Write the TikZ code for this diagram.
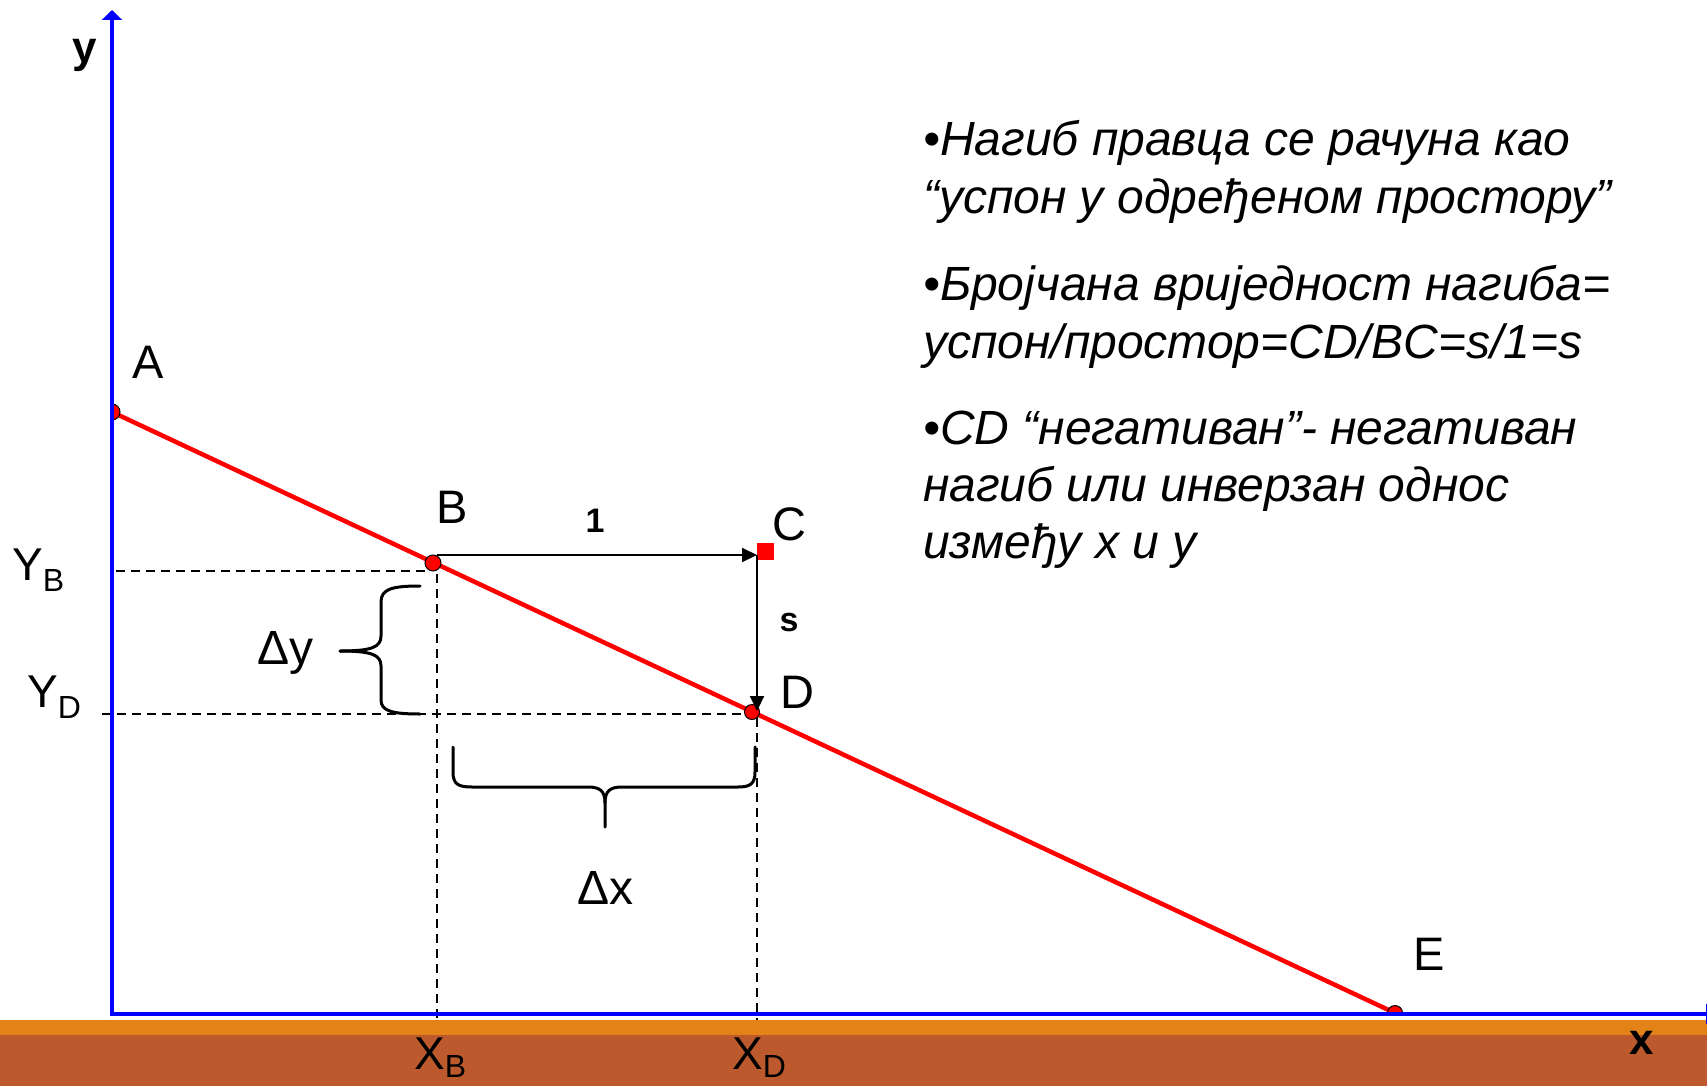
\documentclass[tikz,border=0pt]{standalone}
\usepackage{fontspec}
\setmainfont{Liberation Sans}
\usetikzlibrary{arrows.meta}
\definecolor{axisblue}{RGB}{0,0,255}
\definecolor{bandorange}{RGB}{227,130,23}
\definecolor{bandbrown}{RGB}{189,90,45}
\begin{document}
\begin{tikzpicture}[x=1pt,y=-1pt,
  axis/.style={draw=axisblue, line width=4pt, -{Triangle[width=20pt,length=10pt]}},
  slope/.style={draw=red, line width=4.5pt},
  dot/.style={fill=red, draw=black, line width=1pt},
  guide/.style={draw=black, line width=2.5pt, dash pattern=on 9pt off 6pt},
  arr/.style={draw=black, line width=2pt, -{Triangle[width=14pt,length=15pt]}},
  brace/.style={draw=black, line width=3pt, line cap=round},
  lbl/.style={font=\fontsize{47}{47}\selectfont, inner sep=0pt},
  sublbl/.style={font=\fontsize{46}{46}\selectfont, inner sep=0pt, anchor=base west},
  axlbl/.style={font=\fontsize{44}{44}\selectfont\bfseries, inner sep=0pt},
  small/.style={font=\fontsize{34}{34}\selectfont\bfseries, inner sep=0pt},
  delta/.style={font=\fontsize{48}{48}\selectfont, inner sep=0pt, anchor=base west},
  note/.style={font=\fontsize{48}{57}\selectfont\itshape, anchor=base west, inner sep=0pt}
]
\useasboundingbox (0,0) rectangle (1707,1086);
\fill[white] (0,0) rectangle (1707,1086);
\clip (0,0) rectangle (1707,1086);
\fill[bandorange] (0,1020) rectangle (1707,1035);
\fill[bandbrown] (0,1035) rectangle (1707,1086);

% key points
\coordinate (O) at (112,1014);
\coordinate (Ybot) at (112,1016);
\coordinate (Ytop) at (112,10);
\coordinate (Xbeg) at (110,1014);
\coordinate (Xend) at (1716,1014);
\coordinate (A) at (112,412);
\coordinate (B) at (433,563);
\coordinate (D) at (752,712);
\coordinate (E) at (1395,1013);
\coordinate (Bs) at (437,555);
\coordinate (Cs) at (757,555);
\coordinate (Ds) at (757,711);

% dashed guides
\draw[guide] (116,571) -- (428,571);
\draw[guide] (437,574) -- (437,1020);
\draw[guide] (102,714) -- (757,714);
\draw[guide] (757,718) -- (757,1020);

% slope line
\draw[slope] (A) -- (E);

% dots
\draw[dot] (B) circle[radius=8pt];
\draw[dot] (D) circle[radius=7.5pt];
\draw[dot] ([yshift=8pt]A) arc[start angle=90, end angle=-90, radius=8pt] -- cycle;
\draw[dot] ([xshift=7.5pt]E) arc[start angle=0, end angle=180, radius=7.5pt] -- cycle;
\node[fill=red, minimum size=17pt, inner sep=0pt] (C) at (765.5,551.5) {};

% arrows 1 and s
\draw[arr] (Bs) -- (Cs);
\draw[arr] (Cs) -- (Ds);

% axes
\draw[axis] (Ybot) -- (Ytop);
\draw[axis] (Xbeg) -- (Xend);

% braces
\draw[brace] (420,586) .. controls (392,586) and (381,589) .. (381,602) -- (381,636) .. controls (381,647) and (372,651) .. (340,651);
\draw[brace] (340,651) .. controls (372,651) and (381,655) .. (381,666) -- (381,700) .. controls (381,711) and (392,714) .. (420,714);
\draw[brace] (453,747) -- (453,772) .. controls (453,784) and (458,787) .. (472,787) -- (588,787) .. controls (600,787) and (605,791) .. (605,803) -- (605,827);
\draw[brace] (755,747) -- (755,772) .. controls (755,784) and (750,787) .. (738,787) -- (622,787) .. controls (610,787) and (605,791) .. (605,803);

% labels
\node[axlbl] (ylab) at (85,55) {y};
\node[axlbl] (xlab) at (1642,1043) {x};
\node[lbl] (Alab) at (148,362) {A};
\node[lbl] (Blab) at (452,507) {B};
\node[lbl] (Clab) at (789,524) {C};
\node[lbl] (Dlab) at (797,692) {D};
\node[lbl] (Elab) at (1429,954) {E};
\node[small] (one) at (595,521) {1};
\node[small] (slab) at (789,623) {s};

\node[sublbl] (YB) at (12,580) {Y\raisebox{-11pt}{\fontsize{32}{32}\selectfont B}};
\node[sublbl] (YD) at (27,707) {Y\raisebox{-11pt}{\fontsize{32}{32}\selectfont D}};
\node[sublbl] (XB) at (414,1069) {X\raisebox{-8pt}{\fontsize{32}{32}\selectfont B}};
\node[sublbl] (XD) at (732,1069) {X\raisebox{-8pt}{\fontsize{32}{32}\selectfont D}};

\node[delta] (dy) at (257,664) {Δy};
\node[delta] (dx) at (577,904) {Δx};

% text block
\node[note] (t1) at (923,156) {•Нагиб правца се рачуна као};
\node[note] (t2) at (923,213) {“успон у одређеном простору”};
\node[note] (t3) at (923,300) {•Бројчана вриједност нагиба=};
\node[note] (t4) at (923,358) {успон/простор=CD/BC=s/1=s};
\node[note] (t5) at (923,444) {•CD “негативан”- негативан};
\node[note] (t6) at (923,501) {нагиб или инверзан однос};
\node[note] (t7) at (923,558) {између x и y};
\end{tikzpicture}
\end{document}
